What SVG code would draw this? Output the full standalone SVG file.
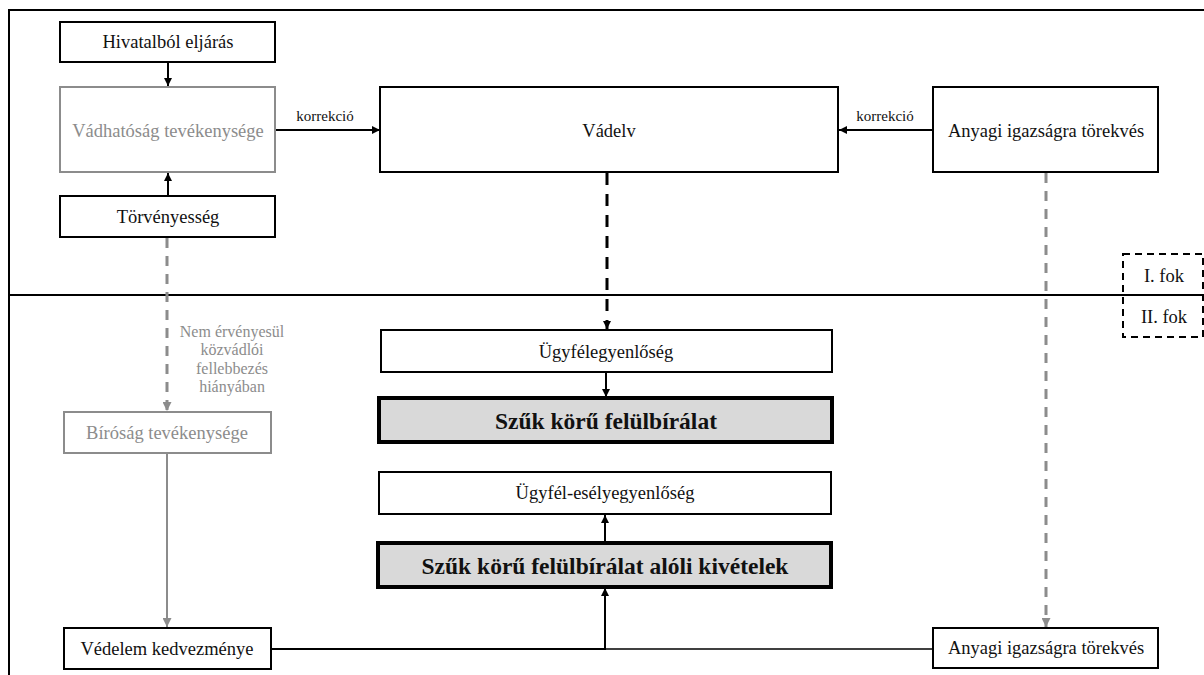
<svg xmlns="http://www.w3.org/2000/svg" width="1204" height="675" viewBox="0 0 1204 675" font-family="'Liberation Serif', 'DejaVu Serif', serif">
<style>
text{text-anchor:middle;fill:#111}
.box{fill:#fff;stroke:#000;stroke-width:2}
.gbox{fill:#fff;stroke:#8c8c8c;stroke-width:2}
.hbox{fill:#d9d9d9;stroke:#000;stroke-width:4}
.t{font-size:18.5px}
.g{fill:#8c8c8c}
.b{font-size:23.5px;font-weight:bold}
.lbl{font-size:15px}
.ln{stroke:#000;stroke-width:2;fill:none}
.gl{stroke:#8c8c8c;stroke-width:2;fill:none}
.dk{stroke:#000;stroke-width:3;fill:none;stroke-dasharray:12 9}
.dg{stroke:#8c8c8c;stroke-width:3;fill:none;stroke-dasharray:10 8}
</style>
<defs>
<marker id="ab" viewBox="0 0 10 10" refX="10" refY="5" markerWidth="8" markerHeight="8" markerUnits="userSpaceOnUse" orient="auto"><path d="M0,0L10,5L0,10z" fill="#000"/></marker>
<marker id="ag" viewBox="0 0 10 10" refX="10" refY="5" markerWidth="9" markerHeight="9" markerUnits="userSpaceOnUse" orient="auto"><path d="M0,0L10,5L0,10z" fill="#8c8c8c"/></marker>
</defs>
<g id="frame">
<path d="M9,675V10H1204" stroke="#000" stroke-width="2" fill="none"/>
<line x1="9" y1="295" x2="1204" y2="295" stroke="#000" stroke-width="2"/>
</g>
<g id="connectors">
<line class="ln" x1="168" y1="62" x2="168" y2="86" marker-end="url(#ab)"/>
<line class="ln" x1="168" y1="196" x2="168" y2="173" marker-end="url(#ab)"/>
<line class="ln" x1="275" y1="130" x2="380" y2="130" marker-end="url(#ab)"/>
<text class="lbl" x="325" y="121">korrekció</text>
<line class="ln" x1="933" y1="130" x2="839" y2="130" marker-end="url(#ab)"/>
<text class="lbl" x="885" y="121">korrekció</text>
<line class="dk" x1="607" y1="173" x2="607" y2="329" marker-end="url(#ab)"/>
<line class="dg" x1="167" y1="238" x2="167" y2="411" marker-end="url(#ag)"/>
<line class="gl" x1="167" y1="454" x2="167" y2="627" marker-end="url(#ag)"/>
<line class="dg" x1="1046" y1="173" x2="1046" y2="627" marker-end="url(#ag)"/>
<line class="ln" x1="606" y1="372" x2="606" y2="397" marker-end="url(#ab)"/>
<line class="ln" x1="605" y1="543" x2="605" y2="515" marker-end="url(#ab)"/>
<path class="ln" d="M271,649H605V588" marker-end="url(#ab)"/>
<line x1="605" y1="649" x2="933" y2="649" stroke="#000" stroke-width="1.5"/>
<g font-size="16px">
<text class="g" x="232" y="337">Nem érvényesül</text>
<text class="g" x="232" y="355">közvádlói</text>
<text class="g" x="232" y="374">fellebbezés</text>
<text class="g" x="232" y="392">hiányában</text>
</g>
</g>
<g id="n-hivatalbol"><rect class="box" x="60" y="22" width="215" height="40"/><text class="t" x="168" y="48">Hivatalból eljárás</text></g>
<g id="n-vadhatosag"><rect class="gbox" x="60" y="87" width="215" height="85"/><text class="t g" x="168" y="137">Vádhatóság tevékenysége</text></g>
<g id="n-torvenyesseg"><rect class="box" x="60" y="196" width="215" height="41"/><text class="t" x="168" y="223">Törvényesség</text></g>
<g id="n-vadelv"><rect class="box" x="380" y="87" width="458" height="85"/><text class="t" x="609" y="137">Vádelv</text></g>
<g id="n-anyagi1"><rect class="box" x="933" y="87" width="225" height="85"/><text class="t" x="1046" y="137">Anyagi igazságra törekvés</text></g>
<g id="n-fok"><rect x="1123" y="254" width="80" height="83" fill="none" stroke="#000" stroke-width="2" stroke-dasharray="7 5"/><text class="t" x="1164" y="282">I. fok</text><text class="t" x="1164" y="323">II. fok</text></g>
<g id="n-ugyfel"><rect class="box" x="381" y="330" width="451" height="42"/><text class="t" x="606" y="358">Ügyfélegyenlőség</text></g>
<g id="n-szuk"><rect class="hbox" x="379" y="398" width="453" height="44"/><text class="b" x="606" y="429">Szűk körű felülbírálat</text></g>
<g id="n-esely"><rect class="box" x="379" y="472" width="452" height="42"/><text class="t" x="605" y="499">Ügyfél-esélyegyenlőség</text></g>
<g id="n-kivetel"><rect class="hbox" x="378" y="543" width="453" height="44"/><text class="b" x="605" y="574">Szűk körű felülbírálat alóli kivételek</text></g>
<g id="n-birosag"><rect class="gbox" x="64" y="412" width="207" height="41"/><text class="t g" x="167" y="439">Bíróság tevékenysége</text></g>
<g id="n-vedelem"><rect class="box" x="64" y="628" width="207" height="41"/><text class="t" x="167" y="655">Védelem kedvezménye</text></g>
<g id="n-anyagi2"><rect class="box" x="933" y="628" width="225" height="40"/><text class="t" x="1046" y="654">Anyagi igazságra törekvés</text></g>
</svg>
